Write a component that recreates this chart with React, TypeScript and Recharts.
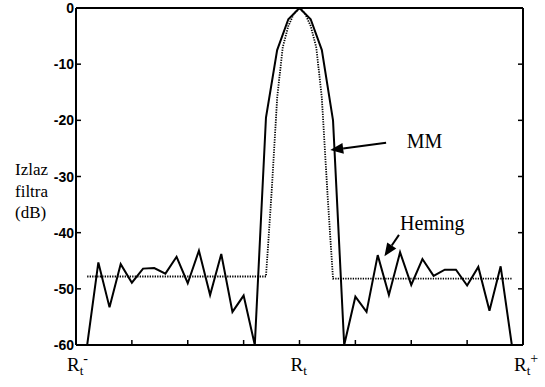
import { LineChart, Line, XAxis, YAxis, ReferenceLine, ReferenceDot } from 'recharts'

// Heming (solid) response, sampled every 0.2 of the span R_t- .. R_t+
const hemingPos = [
  0.2, 0.4, 0.6, 0.8, 1.0, 1.2, 1.4, 1.6, 1.8, 2.0, 2.2, 2.4, 2.6, 2.8, 3.0, 3.2,
  3.4, 3.6, 3.8, 4.0, 4.2, 4.4, 4.6,
  4.8, 5.0, 5.2, 5.4, 5.6, 5.8, 6.0, 6.2, 6.4, 6.6, 6.8, 7.0, 7.2, 7.4, 7.6, 7.8,
]
const hemingDb = [
  -60, -45.3, -53.3, -45.6, -48.9, -46.4, -46.3, -47.3, -44.3, -49.0, -43.2, -51.1, -43.8, -54.1, -51.2, -60,
  -19.5, -7.5, -2, 0, -2, -7.5, -20,
  -60, -51.4, -54.1, -44.0, -51.1, -43.5, -49.3, -44.7, -47.7, -46.6, -46.6, -49.4, -46.1, -53.9, -46.0, -60,
]

// MM (dotted) response
const mmPos = [0.2, 3.4, 3.5, 3.6, 3.7, 3.8, 3.9, 4.0, 4.1, 4.2, 4.3, 4.4, 4.5, 4.6, 7.8]
const mmDb = [-47.8, -47.8, -33, -16, -7, -3.2, -1, 0, -1, -3.2, -7, -16, -33, -48.2, -48.2]

const xTicks = [0, 1, 2, 3, 4, 5, 6, 7, 8]
const yTicks = [0, -10, -20, -30, -40, -50, -60]
const xLabels: Record<number, { sub: string; sup: string }> = {
  0: { sub: 't', sup: '-' },
  4: { sub: 't', sup: '' },
  8: { sub: 't', sup: '+' },
}

const hemingData = hemingPos.map((x, i) => ({ x, db: hemingDb[i] }))
const mmData = mmPos.map((x, i) => ({ x, db: mmDb[i] }))

const serif = '"Liberation Serif", "Times New Roman", serif'
const sans = '"Liberation Sans", Arial, sans-serif'

function XTick({ x, y, payload }: any) {
  const lab = xLabels[payload.value]
  return (
    <g>
      <line x1={x} x2={x} y1={y} y2={y - 5} stroke="#000" strokeWidth={1.5} />
      {lab && (
        <text x={x - 9} y={y + 26} fontFamily={serif} fontSize={19} fill="#000">
          R
          <tspan fontSize={13} dy={4}>{lab.sub}</tspan>
          {lab.sup && <tspan fontSize={14} dy={-12}>{lab.sup}</tspan>}
        </text>
      )}
    </g>
  )
}

function TopTick({ x, y }: any) {
  return <line x1={x} x2={x} y1={y} y2={y + 5} stroke="#000" strokeWidth={1.5} />
}

function RightTick({ x, y }: any) {
  return <line x1={x} x2={x - 5} y1={y} y2={y} stroke="#000" strokeWidth={1.5} />
}

function YTick({ x, y, payload }: any) {
  return (
    <g>
      <line x1={x} x2={x + 5} y1={y} y2={y} stroke="#000" strokeWidth={1.5} />
      <text x={x - 2} y={y + 5} textAnchor="end" fontFamily={sans} fontSize={14} fontWeight="bold" fill="#000">
        {payload.value}
      </text>
    </g>
  )
}

function YTitle({ viewBox }: any) {
  const cx = viewBox.x + viewBox.width - 61
  const cy = viewBox.y + viewBox.height / 2
  return (
    <text fontFamily={serif} fontSize={17} fill="#000">
      <tspan x={cx} y={cy - 2}>Izlaz</tspan>
      <tspan x={cx} y={cy + 20}>filtra</tspan>
      <tspan x={cx} y={cy + 41}>(dB)</tspan>
    </text>
  )
}

function Arrow({ x1, y1, x2, y2 }: any) {
  const a = Math.atan2(y2 - y1, x2 - x1)
  const len = 13
  const w = 5.5
  const bx = x2 - len * Math.cos(a)
  const by = y2 - len * Math.sin(a)
  const pts = `${x2},${y2} ${bx + w * Math.sin(a)},${by - w * Math.cos(a)} ${bx - w * Math.sin(a)},${by + w * Math.cos(a)}`
  return (
    <g>
      <line x1={x1} y1={y1} x2={bx} y2={by} stroke="#000" strokeWidth={2} />
      <polygon points={pts} fill="#000" />
    </g>
  )
}

const note = (txt: string) => (p: any) => (
  <text x={p.cx} y={p.cy} fontFamily={serif} fontSize={20} fill="#000">{txt}</text>
)

export default function App() {
  return (
    <div style={{ position: 'absolute', left: 0, top: 0, background: '#fff' }}>
      <LineChart width={545} height={387} margin={{ top: 7, right: 21, bottom: 12, left: 16 }}>
        <XAxis
          dataKey="x"
          type="number"
          domain={[0, 8]}
          ticks={xTicks}
          interval={0}
          allowDataOverflow
          height={30}
          tickSize={0}
          tickMargin={0}
          tickLine={false}
          tick={<XTick />}
          axisLine={{ stroke: '#000', strokeWidth: 2 }}
        />
        <XAxis
          xAxisId="top"
          orientation="top"
          type="number"
          domain={[0, 8]}
          ticks={xTicks}
          interval={0}
          allowDataOverflow
          height={1}
          tickSize={0}
          tickMargin={0}
          tickLine={false}
          tick={<TopTick />}
          axisLine={{ stroke: '#000', strokeWidth: 2 }}
        />
        <YAxis
          type="number"
          domain={[-60, 0]}
          ticks={yTicks}
          interval={0}
          allowDataOverflow
          width={60}
          tickSize={0}
          tickMargin={0}
          tickLine={false}
          tick={<YTick />}
          axisLine={{ stroke: '#000', strokeWidth: 2 }}
          label={{ content: YTitle }}
        />
        <YAxis
          yAxisId="right"
          orientation="right"
          type="number"
          domain={[-60, 0]}
          ticks={yTicks}
          interval={0}
          allowDataOverflow
          width={1}
          tickSize={0}
          tickMargin={0}
          tickLine={false}
          tick={<RightTick />}
          axisLine={{ stroke: '#000', strokeWidth: 2 }}
        />
        <Line
          data={mmData}
          dataKey="db"
          stroke="#000"
          strokeWidth={1.8}
          strokeDasharray="1.3 1.2"
          dot={false}
          isAnimationActive={false}
        />
        <Line
          data={hemingData}
          dataKey="db"
          stroke="#000"
          strokeWidth={2}
          dot={false}
          isAnimationActive={false}
        />
        <ReferenceLine segment={[{ x: 5.55, y: -24.0 }, { x: 4.55, y: -25.3 }]} shape={Arrow} ifOverflow="visible" />
        <ReferenceLine segment={[{ x: 5.78, y: -40.4 }, { x: 5.52, y: -44.2 }]} shape={Arrow} ifOverflow="visible" />
        <ReferenceDot x={5.92} y={-25.0} r={0} shape={note('MM')} ifOverflow="visible" />
        <ReferenceDot x={5.8} y={-39.5} r={0} shape={note('Heming')} ifOverflow="visible" />
      </LineChart>
    </div>
  )
}
